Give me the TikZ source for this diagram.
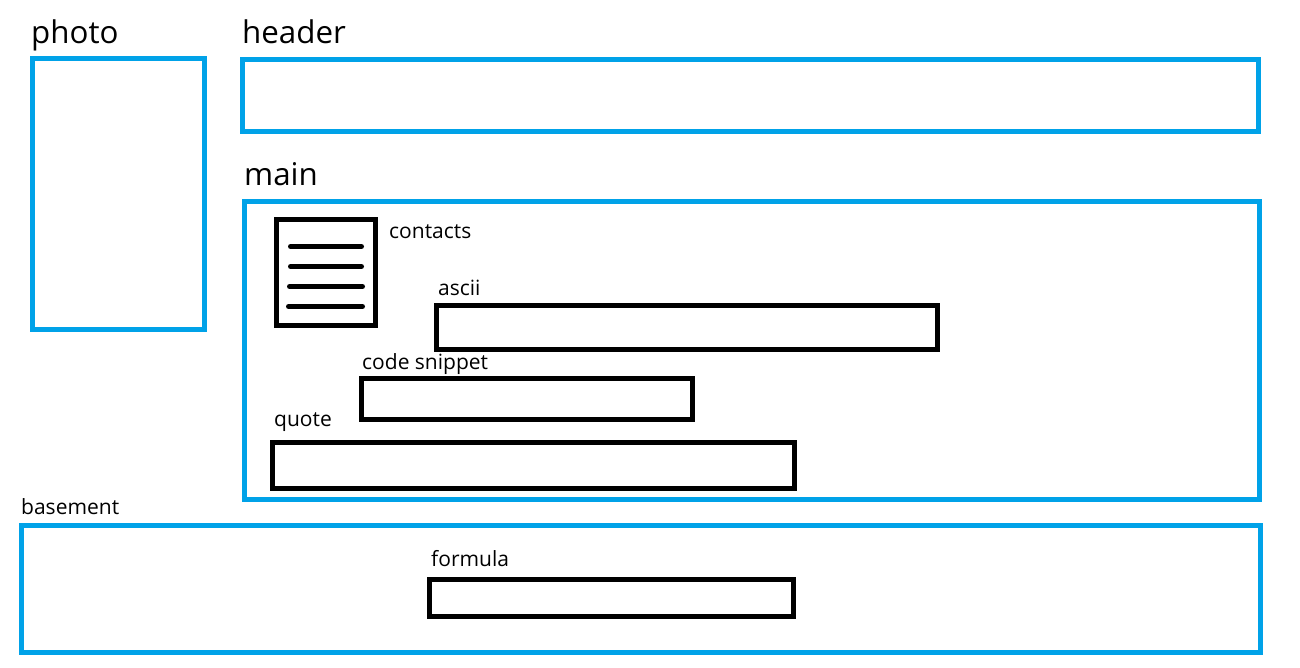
\documentclass[tikz,border=0pt]{standalone}
\usepackage{fontspec}
\setmainfont{Open Sans}
\definecolor{bluebox}{HTML}{00A2E8}
\tikzset{x=1pt,y=-1pt,
 bb/.style={draw=bluebox,line width=5pt,fill=none},
 kb/.style={draw=black,line width=5pt,fill=none},
 ln/.style={draw=black,line width=5pt,line cap=round},
 big/.style={font=\fontsize{31.3}{34}\selectfont,anchor=base west,inner sep=0pt},
 small/.style={font=\fontsize{21}{24}\selectfont,anchor=base west,inner sep=0pt}}
\begin{document}
\begin{tikzpicture}
\useasboundingbox (0,0) rectangle (1300,668);
\draw[bb] (32.5,58.5) rectangle (204.5,329.5);
\draw[bb] (242.5,59.5) rectangle (1258.5,131.5);
\draw[bb] (244.5,201.5) rectangle (1259.5,499.5);
\draw[bb] (21.5,525.5) rectangle (1260.5,652.5);
\draw[kb] (276.5,219.5) rectangle (375.5,325.5);
\draw[kb] (436.5,305.5) rectangle (937.5,349.5);
\draw[kb] (361.5,378.5) rectangle (692.5,419.5);
\draw[kb] (272.5,442.5) rectangle (794.5,488.5);
\draw[kb] (429.5,579.5) rectangle (793.5,616.5);
\draw[ln] (290.5,246.5) -- (361.5,246.5);
\draw[ln] (290.5,266.5) -- (361.5,266.5);
\draw[ln] (289.5,286.5) -- (362.5,286.5);
\draw[ln] (288.5,306.5) -- (362.5,306.5);
\node[big] (p) at (31,44) {photo};
\node[big] (h) at (242,44) {header};
\node[big] (m) at (244,186) {main};
\node[small] (c) at (389,239) {contacts};
\node[small] (a) at (438,295) {ascii};
\node[small] (s) at (362,369) {code snippet};
\node[small] (q) at (274,426) {quote};
\node[small] (b) at (21,514) {basement};
\node[small] (f) at (431,566) {formula};
\end{tikzpicture}
\end{document}
